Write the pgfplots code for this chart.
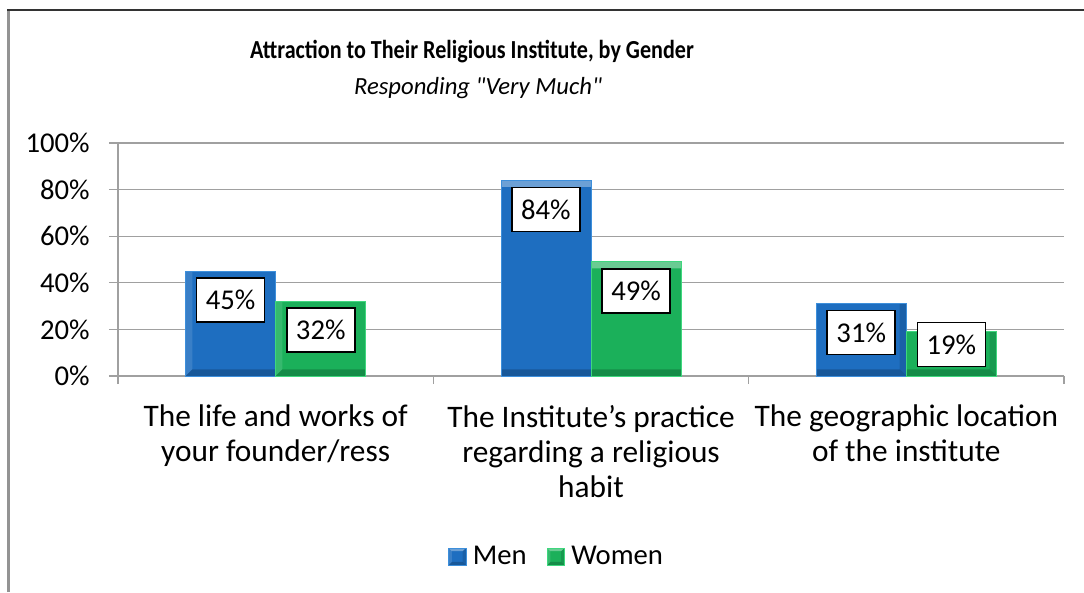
\documentclass[border=0pt]{standalone}
\usepackage{pgfplots}
\pgfplotsset{compat=1.18}
\usepackage{fontspec}
\setmainfont{Carlito}[Ligatures=TeXOff]
\definecolor{menc}{HTML}{1E6EC0}
\definecolor{menedge}{HTML}{3D8FDB}
\definecolor{womc}{HTML}{1BB05A}
\definecolor{womedge}{HTML}{3FD77E}
\definecolor{gridc}{HTML}{A0A0A0}
\def\bvA#1{\pgfpointanchor{path picture bounding box}{#1}}
\def\bvB#1#2#3{\pgfpointadd{\pgfpointanchor{path picture bounding box}{#1}}{\pgfpoint{#2}{#3}}}
\newcommand\bevelquad[6]{%
  \begin{pgfscope}\pgfsetfillcolor{#1}\pgfsetfillopacity{#2}%
  \pgfpathmoveto{#3}\pgfpathlineto{#4}\pgfpathlineto{#5}\pgfpathlineto{#6}\pgfpathclose\pgfusepath{fill}%
  \end{pgfscope}}
\tikzset{bevel/.style={path picture={%
  \bevelquad{white}{0.35}{\bvA{north west}}{\bvA{north east}}{\bvB{north east}{-#1}{-#1}}{\bvB{north west}{#1}{-#1}}%
  \bevelquad{white}{0.12}{\bvA{north west}}{\bvB{north west}{#1}{-#1}}{\bvB{south west}{#1}{#1}}{\bvA{south west}}%
  \bevelquad{black}{0.12}{\bvA{north east}}{\bvB{north east}{-#1}{-#1}}{\bvB{south east}{-#1}{#1}}{\bvA{south east}}%
  \bevelquad{black}{0.2}{\bvA{south west}}{\bvA{south east}}{\bvB{south east}{-#1}{#1}}{\bvB{south west}{#1}{#1}}%
}}}
\begin{document}
\begin{tikzpicture}
\path[use as bounding box] (0,0) rectangle (813pt,444pt);
\draw[line width=2pt, color=gray!85] (6.5pt,0) -- (6.5pt,437pt);
\draw[line width=0.9pt, color=black!80] (5.5pt,436.5pt) -- (813pt,436.5pt);
\node[font=\fontsize{19.5pt}{22pt}\selectfont\bfseries, xscale=0.85] at (354pt,405.5pt) {Attraction to Their Religious Institute, by Gender};
\node[font=\fontsize{18.5pt}{22pt}\selectfont\itshape] at (358.5pt,378pt) {Responding "Very Much"};
\begin{axis}[
  at={(88.5pt,162pt)}, anchor=south west,
  width=709.5pt, height=174.75pt, scale only axis,
  xmin=-0.5, xmax=2.5, ymin=0, ymax=100,
  axis lines=left, axis line style={-, draw=gridc, line width=1pt},
  ytick={0,20,40,60,80,100},
  yticklabel={\pgfmathprintnumber{\tick}\%},
  /pgf/number format/assume math mode=true,
  ymajorgrids, grid style={draw=gridc, line width=1pt},
  tick align=outside, major tick length=6.75pt,
  tick style={draw=gridc, line width=1pt},
  xtick={0,1,2},
  xticklabels={{The life and works of\\your founder/ress},{The Institute’s practice\\regarding a religious\\habit},{The geographic location\\of the institute}},
  major x tick style={draw=none},
  minor xtick={-0.5,0.5,1.5,2.5},
  minor x tick style={draw=gridc, line width=1pt, /pgfplots/minor tick length=6pt},
  x tick label style={align=center, font=\fontsize{23.5pt}{26.25pt}\selectfont, yshift=-11.5pt},
  y tick label style={font=\fontsize{21.5pt}{25pt}\selectfont, xshift=-11pt},
  legend style={at={(0.464,-0.775)}, anchor=center, draw=none, legend columns=2,
     font=\fontsize{21.5pt}{25pt}\selectfont,
     /tikz/every odd column/.append style={column sep=3pt},
     /tikz/every even column/.append style={column sep=13pt}},
  legend image code/.code={\draw[#1, line width=0.5pt, bevel=2.5pt] (0pt,-6.5pt) rectangle (13pt,6.5pt);},
  nodes near coords style={font=\fontsize{21.5pt}{25pt}\selectfont, fill=white, draw=black, line width=1.2pt,
     minimum width=51pt, minimum height=33pt, inner sep=0pt, anchor=center},
]
\addplot[ybar, bar width=67.5pt, bar shift=-33.75pt, fill=menc, draw=menedge, line width=0.6pt, bevel=5pt]
  coordinates {(0,45) (1,84) (2,31)};
\addlegendentry{Men}
\addplot[ybar, bar width=67.5pt, bar shift=33.75pt, fill=womc, draw=womedge, line width=0.6pt, bevel=5pt]
  coordinates {(0,32) (1,49) (2,19)};
\addlegendentry{Women}
\addplot[draw=none, mark=none, forget plot, nodes near coords, point meta=explicit symbolic]
  coordinates {(-0.143,32.6) [45\%] (0.857,71.5) [84\%] (1.857,18.7) [31\%]};
\addplot[draw=none, mark=none, forget plot, nodes near coords, point meta=explicit symbolic]
  coordinates {(0.143,19.7) [32\%] (1.143,36.5) [49\%] (2.143,13.5) [19\%]};
\end{axis}
\end{tikzpicture}
\end{document}
